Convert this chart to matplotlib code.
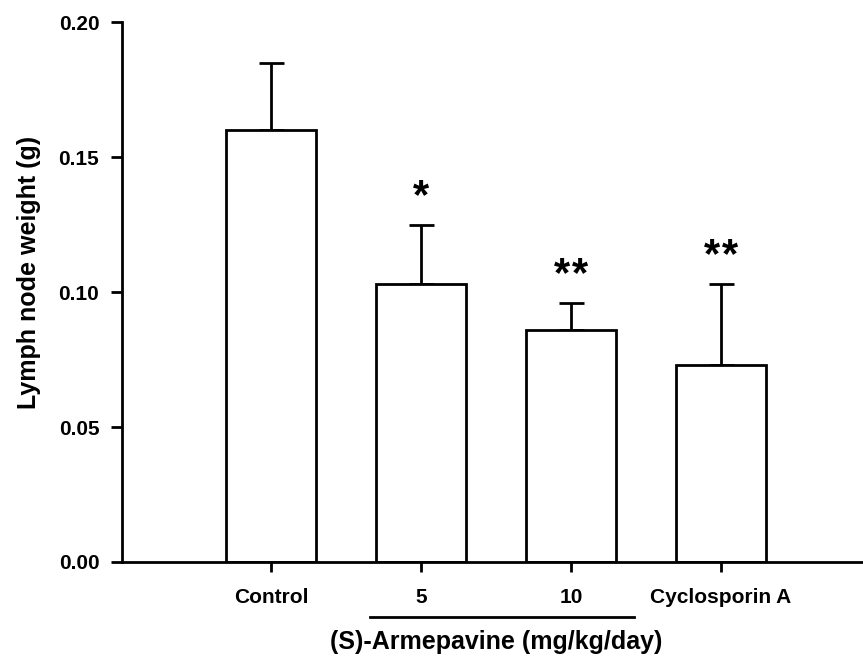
import matplotlib.pyplot as plt
import matplotlib.transforms as mtransforms

plt.rcParams['font.family'] = ['Liberation Sans', 'DejaVu Sans']

# Lymph node weight per group (mean and upper error)
groups = ["Control", "5", "10", "Cyclosporin A"]
means = [0.160, 0.103, 0.086, 0.073]
errors = [0.025, 0.022, 0.010, 0.030]
stars = [0, 1, 2, 2]

fig = plt.figure(figsize=(8.63, 6.57), dpi=100)
ax = fig.add_axes([0.1408, 0.1446, 0.8592, 0.8219])

pos = list(range(len(groups)))
ax.bar(pos, means, width=0.6, color="white", edgecolor="black", linewidth=2.0, zorder=2)
ax.errorbar(pos, means, yerr=[[0] * len(errors), errors], fmt="none",
            ecolor="black", elinewidth=2.0, capsize=9, capthick=2.0, zorder=1)

# significance asterisks, spaced apart a little
for x, m, e, n in zip(pos, means, errors, stars):
    for i in range(n):
        dx = (i - (n - 1) / 2) * 13
        ax.annotate("*", (x, m + e), xytext=(dx, 20), textcoords="offset points",
                    ha="center", va="center", fontsize=30, fontweight="bold")

ax.set_xlim(-1, 3.95)
ax.set_ylim(0, 0.20)
ax.set_yticks([0.00, 0.05, 0.10, 0.15, 0.20])
ax.set_yticklabels(["0.00", "0.05", "0.10", "0.15", "0.20"])
ax.set_xticks(pos)
ax.set_xticklabels(groups)

for side in ["top", "right"]:
    ax.spines[side].set_visible(False)
for side in ["left", "bottom"]:
    ax.spines[side].set_linewidth(2.0)

ax.tick_params(axis="both", width=2.0, labelsize=15)
ax.tick_params(axis="y", length=8, pad=8)
ax.tick_params(axis="x", length=7, pad=12)
for lbl in ax.get_xticklabels() + ax.get_yticklabels():
    lbl.set_fontweight("bold")

ax.set_ylabel("Lymph node weight (g)", fontsize=18, fontweight="bold")
ax.yaxis.set_label_coords(-0.108, 0.537)

# dose bracket under the two armepavine groups
trans = mtransforms.blended_transform_factory(ax.transData, ax.transAxes)
ax.plot([pos[1] - 0.34, pos[2] + 0.42], [-0.101, -0.101], color="black",
        linewidth=2.0, transform=trans, clip_on=False)
ax.text((pos[1] + pos[2]) / 2, -0.148, "(S)-Armepavine (mg/kg/day)",
        transform=trans, ha="center", va="center", fontsize=18, fontweight="bold")

fig.savefig("out.png", dpi=100)
